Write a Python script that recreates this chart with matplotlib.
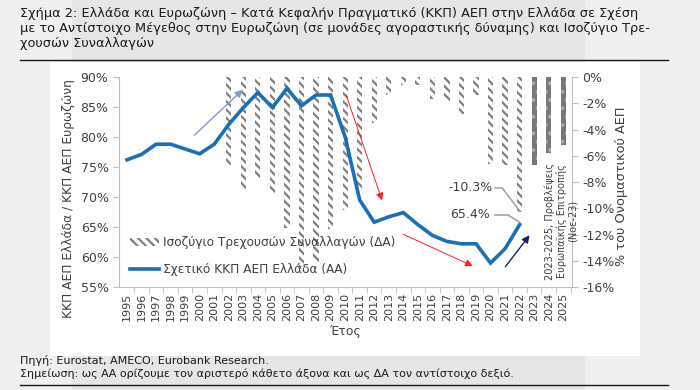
import numpy as np
import matplotlib
matplotlib.use("Agg")
import matplotlib.pyplot as plt
import matplotlib.patches as mpatches
from matplotlib.lines import Line2D

plt.rcParams['font.family'] = ['DejaVu Sans']
plt.rcParams['hatch.linewidth'] = 1.6

# data
years = np.arange(1995, 2026)
gdpRatio = [76.2, 77.1, 78.8, 78.8, 78.0, 77.2, 78.8, 82.1, 84.9, 87.4,
            84.9, 88.1, 85.2, 87.0, 87.0, 80.0, 69.5, 65.8, 66.7, 67.4,
            65.4, 63.6, 62.6, 62.2, 62.2, 59.0, 61.4, 65.4]
caBalance = [np.nan] * 7 + [-6.7, -8.5, -7.7, -8.8, -11.5, -14.5, -14.1,
                            -11.6, -10.1, -8.7, -3.5, -1.4, -0.6, -0.6,
                            -1.7, -1.8, -2.8, -1.4, -6.6, -6.7, -10.3]
caForecast = [-6.7, -5.8, -5.2]

titleText = ("Σχήμα 2: Ελλάδα και Ευρωζώνη – Κατά Κεφαλήν Πραγματικό (ΚΚΠ) ΑΕΠ στην Ελλάδα σε Σχέση\n"
             "με το Αντίστοιχο Μέγεθος στην Ευρωζώνη (σε μονάδες αγοραστικής δύναμης) και Ισοζύγιο Τρε-\n"
             "χουσών Συναλλαγών")
footText = ("Πηγή: Eurostat, AMECO, Eurobank Research.\n"
            "Σημείωση: ως ΑΑ ορίζουμε τον αριστερό κάθετο άξονα και ως ΔΑ τον αντίστοιχο δεξιό.")

lineColor = '#1b6fb6'
spineColor = '#bfbfbf'
textColor = '#404040'

fig = plt.figure(figsize=(7, 3.9), dpi=100)
fig.patch.set_facecolor('#f0f0f0')

# page background pieces
fig.patches.append(mpatches.Rectangle((72/700, 0), (585-72)/700, 1, transform=fig.transFigure,
                                      facecolor='#e6e6e6', edgecolor='none', zorder=-3))
fig.patches.append(mpatches.Rectangle((50/700, 1-356/390), (640-50)/700, (356-62)/390,
                                      transform=fig.transFigure, facecolor='white',
                                      edgecolor='none', zorder=-2))

ax = fig.add_axes([119/700, 1-287/390, (572-119)/700, (287-77)/390])
ax2 = ax.twinx()
ax.set_zorder(ax2.get_zorder() + 1)
ax.patch.set_visible(False)

x = np.arange(len(years))
xf = x[-3:]

ax2.bar(x[:len(caBalance)], caBalance, width=0.36, color='white', edgecolor='#7f7f7f',
        hatch='\\\\\\\\', linewidth=0)
ax2.bar(xf, caForecast, width=0.36, color='#777777', edgecolor='#a8a8a8',
        hatch='..', linewidth=0)
ax2.set_ylim(-16, 0)
ax2.set_yticks(np.arange(-16, 1, 2))
ax2.set_yticklabels([f"{v}%" for v in range(-16, 1, 2)])
ax2.set_ylabel("% του Ονομαστικού ΑΕΠ", fontsize=9.3, color=textColor)
ax2.yaxis.set_label_coords(1.095, 0.48)

ax.plot(x[:len(gdpRatio)], gdpRatio, color=lineColor, linewidth=2.6, solid_joinstyle='miter')
ax.set_ylim(55, 90)
ax.set_yticks(np.arange(55, 91, 5))
ax.set_yticklabels([f"{v}%" for v in range(55, 91, 5)])
ax.set_xlim(-0.55, len(years) - 0.4)
ax.set_xticks(x)
ax.set_xticklabels([str(y) for y in years], rotation=90)
ax.set_xticks(x + 0.5, minor=True)
ax.tick_params(axis='x', which='major', length=0, labelsize=8, colors=textColor, pad=4)
ax.tick_params(axis='x', which='minor', length=4, color=spineColor)
ax.set_ylabel("ΚΚΠ ΑΕΠ Ελλάδα / ΚΚΠ ΑΕΠ Ευρωζώνη", fontsize=8.8, color=textColor)
ax.yaxis.set_label_coords(-0.097, 0.42)
ax.set_xlabel("Έτος", fontsize=9, color=textColor, labelpad=3)

for a in (ax, ax2):
    a.tick_params(axis='y', labelsize=9, colors=textColor, length=4)
    a.tick_params(axis='y', color=spineColor)
    for s in a.spines.values():
        s.set_visible(False)
ax.spines['left'].set_visible(True)
ax.spines['bottom'].set_visible(True)
ax2.spines['right'].set_visible(True)
for s in (ax.spines['left'], ax.spines['bottom'], ax2.spines['right']):
    s.set_color(spineColor)

# arrows
def arrow(x0, y0, x1, y1, color, lw):
    ax.annotate('', xy=(x1 - 1995, y1), xytext=(x0 - 1995, y0),
                arrowprops=dict(arrowstyle='-|>', color=color, lw=lw, mutation_scale=11))

arrow(1999.5, 80.0, 2003.1, 88.2, '#7f9cc8', 1.0)
arrow(2010.0, 87.5, 2012.6, 69.0, '#ff2020', 0.7)
arrow(2013.8, 64.0, 2018.95, 58.3, '#ff2020', 0.7)
arrow(2020.9, 58.0, 2022.8, 64.0, '#0f2a60', 1.0)

# callouts with bent leader lines
ax2.text(2018.6 - 1995, -8.45, "-10.3%", fontsize=9, color=textColor, ha='center', va='center')
ax2.plot([2020.3 - 1995, 2020.8 - 1995, 2022 - 1995], [-8.45, -8.45, -10.2],
         color='#a6a6a6', lw=1.2)
ax.text(2018.6 - 1995, 67.0, "65.4%", fontsize=9, color=textColor, ha='center', va='center')
ax.plot([2020.3 - 1995, 2021.2 - 1995, 2022 - 1995], [67.0, 67.0, 65.8],
        color='#a6a6a6', lw=1.2)

ax.text(2024.85 - 1995, 66.0, "2023-2025, Προβλέψεις\nΕυρωπαϊκής Επιτροπής\n(Νοε-23)",
        rotation=90, ha='center', va='center', multialignment='center',
        fontsize=7, color=textColor, linespacing=1.05)

# legend
hatchPatch = mpatches.Patch(facecolor='white', edgecolor='#7f7f7f', hatch='\\\\\\\\', linewidth=0)
lineHandle = Line2D([0], [0], color=lineColor, linewidth=2.6)
ax.legend([hatchPatch, lineHandle],
          ["Ισοζύγιο Τρεχουσών Συναλλαγών (ΔΑ)", "Σχετικό ΚΚΠ ΑΕΠ Ελλάδα (ΑΑ)"],
          loc='lower left', bbox_to_anchor=(0.0, 0.0), frameon=False, fontsize=8.7,
          handlelength=2.4, handleheight=0.6, handletextpad=0.3, labelspacing=1.15,
          labelcolor=textColor)

# title, footer and rules
fig.text(20/700, 1-7/390, titleText, fontsize=9.3, color='#1a1a1a', va='top', ha='left',
         linespacing=1.2)
fig.add_artist(Line2D([20/700, 668/700], [1-60/390, 1-60/390], color='#1a1a1a', lw=1.0))
fig.text(20/700, 1-355/390, footText, fontsize=8, color='#1a1a1a', va='top', ha='left',
         linespacing=1.25)
fig.add_artist(Line2D([20/700, 668/700], [1-385/390, 1-385/390], color='#1a1a1a', lw=1.0))

fig.savefig("out.png", dpi=100, facecolor=fig.get_facecolor())
